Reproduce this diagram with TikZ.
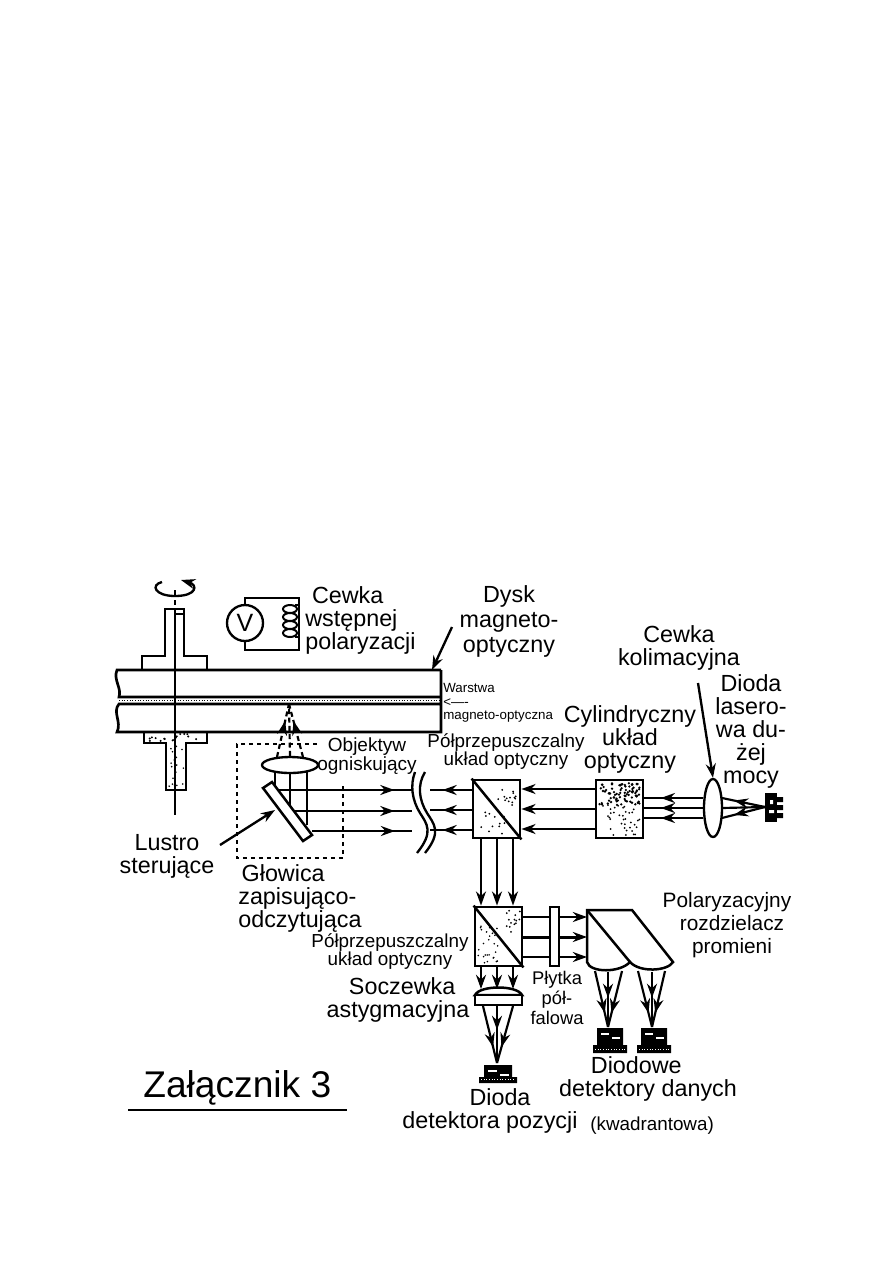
\documentclass[tikz,border=0pt]{standalone}
\usepackage{fontspec}
\setmainfont{Liberation Sans}
\usetikzlibrary{arrows.meta,calc,positioning,shapes.geometric,decorations.markings}
\def\px{0.6pt}
\tikzset{
  >={Stealth[length=8.5pt,width=6pt]},
  bigtext/.style={inner sep=0pt, align=center, font=\fontsize{14}{13.8}\selectfont},
  midtext/.style={inner sep=0pt, align=center, font=\fontsize{11.3}{10.8}\selectfont},
  tinytext/.style={inner sep=0pt, anchor=west, font=\fontsize{8}{9}\selectfont},
  part/.style={draw, line width=1.4pt},
  ray/.style={draw, line width=1.3pt},
  opticbox/.style 2 args={rectangle, draw, line width=1.7pt, fill=white, inner sep=0pt,
    minimum width=#1*\px, minimum height=#2*\px},
  midhead/.style={postaction={decorate},
    decoration={markings, mark=at position #1 with {\arrow{>}}}},
  leader/.style={draw, line width=1.4pt, ->},
}
% random dots inside a rectangle: x0,y0,x1,y1,count,size
\newcommand{\speckle}[6]{%
  \foreach \i in {1,...,#5} {
    \pgfmathsetmacro\sx{#1+rnd*(#3-#1)}
    \pgfmathsetmacro\sy{#2+rnd*(#4-#2)}
    \fill (\sx,\sy) circle[radius=#6*\px];
  }}
% small detector with a wider base
\newcommand{\detector}[6]{%
  \fill (#1-#3,#4) -- (#1+#3,#4) -- (#1+#3,#5) -- (#1+#2,#5) -- (#1+#2,#6) -- (#1-#2,#6)
    -- (#1-#2,#5) -- (#1-#3,#5) -- cycle;
  \fill[white] (#1-#3+4,#4+5) rectangle (#1-1,#4+7);
  \fill[white] (#1+2,#4+9) rectangle (#1+#3-3,#4+11);
  \draw[white, line width=0.6pt, densely dotted] (#1-#2+2,#6-4) -- (#1+#2-2,#6-4);
}

\begin{document}
\begin{tikzpicture}[x=\px, y=-\px]
  \pgfmathsetseed{417}
  \useasboundingbox[fill=white] (0,0) rectangle (893,1263);

  % spindle
  \draw[part] (142,670) -- (142,656) -- (165,656) -- (165,609) -- (184,609) -- (184,656) -- (207,656) -- (207,670);
  \draw[part] (144,732) -- (144,743) -- (166,743) -- (166,790) -- (186,790) -- (186,743) -- (207,743) -- (207,732);
  \speckle{146}{734}{205}{742}{16}{1.1}
  \speckle{168}{744}{184}{788}{18}{0.9}
  \draw[part, dashed] (175,590) -- (175,609);
  \draw[part] (175,609) -- (175,815);
  \draw[part] (175,614) -- (184,614);
  \draw[part, ->] (162,582) .. controls (150,585) and (155,596) .. (175,596)
    .. controls (197,596) and (198,585) .. (181,580);

  % disc
  \coordinate (diskTop) at (432,670);
  \draw[part, line width=1.6pt] (441,670) -- (117,670) .. controls (113,680) and (122,688) .. (119,697)
    -- (441,697);
  \draw[part, line width=1.6pt] (441,704) -- (119,704) .. controls (112,712) and (122,722) .. (117,732)
    -- (441,732) -- (441,670);
  \draw[line width=0.6pt, densely dotted] (119,700) -- (441,700);

  % coil and voltmeter
  \node[circle, draw, line width=1.4pt, minimum size=36*\px, inner sep=0pt, font=\fontsize{15}{15}\selectfont] (volt) at (245,623) {V};
  \coordinate (coilTop) at (299,598);
  \coordinate (coilLow) at (299,650);
  \draw[part] (volt.north) -- (volt.north |- coilTop) -- (coilTop) -- (coilLow) -- (volt.south |- coilLow) -- (volt.south);
  \foreach \cy in {609,617,625,633}
    \draw[line width=1.2pt] (290,\cy) ellipse[x radius=7, y radius=4];
  \draw[line width=1.2pt] (295,605) -- (299,605) (295,637) -- (299,637);

  % read/write head outline
  \draw[line width=1.7pt, dash pattern=on 2.4pt off 2.4pt] (317,744) -- (237,744) -- (237,858) -- (343,858) -- (343,783);

  % focusing lens and the beam going up to the disc
  \node[ellipse, draw, line width=1.4pt, fill=white, minimum width=56*\px, minimum height=16*\px, inner sep=0pt] (lensObj) at (290,765) {};
  \coordinate (focus) at (289,704);
  \draw[ray, densely dashed, midhead=0.68] (277,757) -- (focus);
  \draw[ray, densely dashed] (lensObj.north) -- (focus);
  \draw[ray, densely dashed, midhead=0.68] (303,757) -- (focus);

  % beams between mirror and lens
  \draw[ray] (275,773) -- (275,790) (290,773) -- (290,811) (307,771) -- (307,825);

  % steering mirror
  \draw[line width=1.5pt, fill=white] (263,788) coordinate (mirA) -- (272,782) -- (312,835) -- (303,841) -- cycle;
  \coordinate (mirHit) at (275,810);

  % beam splitters, cylinder optics, half wave plate
  \node[opticbox={47}{58}] (splitA) at (496.5,809) {};
  \node[opticbox={47}{58}] (cylOpt) at (619.5,809) {};
  \node[opticbox={47}{59}] (splitB) at (498.5,936.5) {};
  \node[ellipse, draw, line width=1.4pt, fill=white, minimum width=18*\px, minimum height=58*\px, inner sep=0pt] (lensCol) at (713,808) {};
  \draw[line width=1.5pt] (splitA.north west) -- (splitA.south east);
  \draw[line width=1.5pt] (splitB.north west) -- (splitB.south east);
  \speckle{498}{784}{517}{806}{14}{1.0}
  \speckle{478}{812}{505}{835}{12}{1.0}
  \speckle{505}{910}{520}{932}{14}{1.0}
  \speckle{478}{925}{498}{963}{26}{0.9}
  \speckle{599}{783}{640}{805}{80}{1.3}
  \speckle{602}{805}{640}{835}{36}{1.0}

  % beams up to the break in the path
  \coordinate (gapL) at (412,0);
  \coordinate (gapR) at (430,0);
  \draw[ray, midhead=0.87] (277,790) -- (gapL |- 0,790);
  \draw[ray, midhead=0.85] (295,811) -- (gapL |- 0,811);
  \draw[ray, midhead=0.83] (312,831) -- (gapL |- 0,831);
  \foreach \ry in {790,810,830}
    \draw[ray, midhead=0.7] (splitA.west |- 0,\ry) -- (gapR |- 0,\ry);
  \foreach \ry in {789,809,829}
    \draw[ray, ->] (cylOpt.west |- 0,\ry) -- (splitA.east |- 0,\ry);
  \foreach \ry in {798,808,818}
    \draw[ray, midhead=0.72] (lensCol.west |- 0,\ry) -- (cylOpt.east |- 0,\ry);

  % break marks
  \draw[line width=1.4pt] (415,772) .. controls (410,785) and (412,800) .. (420,813) .. controls (427,824) and (434,832) .. (417,853);
  \draw[line width=1.4pt] (425,772) .. controls (417,785) and (419,800) .. (427,813) .. controls (434,824) and (442,832) .. (425,853);

  % laser diode
  \coordinate (laserTip) at (765,807);
  \fill (765,793) rectangle (777,822);
  \fill (777,797) rectangle (783,802) (777,805) rectangle (783,810) (777,813) rectangle (783,818);
  \fill[white] (770,800) rectangle (773,804) (769,810) rectangle (774,813);
  \foreach \ly in {798,818}
    \draw[ray, midhead=0.72] (laserTip) -- (722,\ly);
  \draw[ray] (laserTip) -- (722,808);

  % beams down from the first splitter
  \foreach \rx in {481,497,513}
    \draw[ray, ->] (\rx,838) -- (splitB.north -| \rx,0);

  % half wave plate and prism
  \foreach \ry in {917,937,957}
    \coordinate (pr\ry) at (587,\ry);
  \draw[ray, ->] (splitB.east |- pr917) -- (pr917);
  \draw[ray, ->, line width=1.8pt] (splitB.east |- pr937) -- (pr937);
  \draw[ray, ->] (splitB.east |- pr957) -- (pr957);
  \node[opticbox={9}{59}] (plate) at (554.5,936.5) {};
  \draw[line width=1.5pt, fill=white] (587,910) -- (632,910) -- (673,962)
    .. controls (668,971) and (640,973) .. (630,962)
    .. controls (620,973) and (590,973) .. (587,962) -- cycle;
  \draw[line width=1.5pt] (587,910) -- (630,962);

  % beams from prism to data diodes
  \coordinate (dataA) at (608,1027);
  \coordinate (dataB) at (652,1027);
  \foreach \rx in {595,622}
    \draw[ray, midhead=0.75] (\rx,971) -- (dataA);
  \draw[ray, midhead=0.47] (608,972) -- (dataA);
  \foreach \rx in {638,665}
    \draw[ray, midhead=0.75] (\rx,971) -- (dataB);
  \draw[ray, midhead=0.47] (652,972) -- (dataB);
  \detector{610}{17}{13}{1028}{1045}{1053}
  \detector{654}{17}{13}{1028}{1045}{1053}

  % astigmatic lens, position diode
  \draw[line width=1.5pt, fill=white] (475,995) .. controls (480,985) and (517,985) .. (522,995) -- cycle;
  \node[opticbox={47}{10}] (lensAst) at (498.5,1000) {};
  \foreach \rx in {481,497,513}
    \draw[ray, ->] (\rx,966) -- (\rx,989);
  \coordinate (posTip) at (497,1063);
  \foreach \rx in {483,513}
    \draw[ray, midhead=0.72] (\rx,1006) -- (posTip);
  \draw[ray, midhead=0.42] (497,1006) -- (posTip);
  \detector{498}{19}{14}{1065}{1077}{1083}

  % labels
  \node[bigtext, anchor=west, align=left] (lblCoil) at (305,620) {\hspace*{4pt}Cewka\\wstępnej\\polaryzacji};
  \node[bigtext, font=\fontsize{14}{15}\selectfont] (lblDisk) at (509,621) {Dysk\\magneto-\\optyczny};
  \node[bigtext] (lblColl) at (679,648) {Cewka\\kolimacyjna};
  \node[bigtext] (lblLaser) at (751,731) {Dioda\\lasero-\\wa du-\\żej\\mocy};
  \node[bigtext] (lblCyl) at (630,739) {Cylindryczny\\układ\\optyczny};
  \node[midtext] (lblSplitA) at (506,752) {Półprzepuszczalny\\układ optyczny};
  \node[tinytext] (lblLayerA) at (443,688) {Warstwa};
  \node[tinytext] (lblLayerB) at (443,703) {<----};
  \node[tinytext] (lblLayerC) at (443,717) {magneto-optyczna};
  \node[midtext, font=\fontsize{11.4}{9}\selectfont] (lblObj) at (367,756) {Objektyw\\ogniskujący};
  \node[bigtext] (lblMirror) at (167,856) {Lustro\\sterujące};
  \node[bigtext, anchor=west, align=left] (lblHead) at (238,898) {\hspace*{2pt}Głowica\\zapisująco-\\odczytująca};
  \node[midtext] (lblSplitB) at (390,952) {Półprzepuszczalny\\układ optyczny};
  \node[bigtext] (lblAstig) at (398,1000) {\hspace*{5pt}Soczewka\\astygmacyjna};
  \node[midtext, font=\fontsize{11}{12}\selectfont] (lblPlate) at (557,998) {Płytka\\pół-\\falowa};
  \node[midtext, font=\fontsize{12.5}{13.6}\selectfont] (lblPol) at (727,925) {Polaryzacyjny\\\hspace*{6pt}rozdzielacz\\\hspace*{6pt}promieni};
  \node[bigtext] (lblData) at (648,1079) {Diodowe\hspace*{14pt}\\detektory danych};
  \node[bigtext] (lblPos) at (490,1111) {\hspace*{12pt}Dioda\\detektora pozycji};
  \node[midtext, anchor=west] (lblQuad) at (590,1126) {(kwadrantowa)};
  \node[inner sep=0pt, anchor=west, font=\fontsize{22.3}{24}\selectfont] (lblTitle) at (143,1088) {Załącznik 3};
  \draw[line width=1.2pt] (128,1110) -- (347,1110);

  % leader lines
  \coordinate (leadDisk) at (452,627);
  \coordinate (leadMirror) at (220,845);
  \coordinate (leadColl) at (698,683);
  \draw[leader] (leadDisk) -- (diskTop);
  \draw[leader] (leadMirror) -- (mirHit);
  \draw[leader] (leadColl) -- (lensCol.north);
\end{tikzpicture}
\end{document}
